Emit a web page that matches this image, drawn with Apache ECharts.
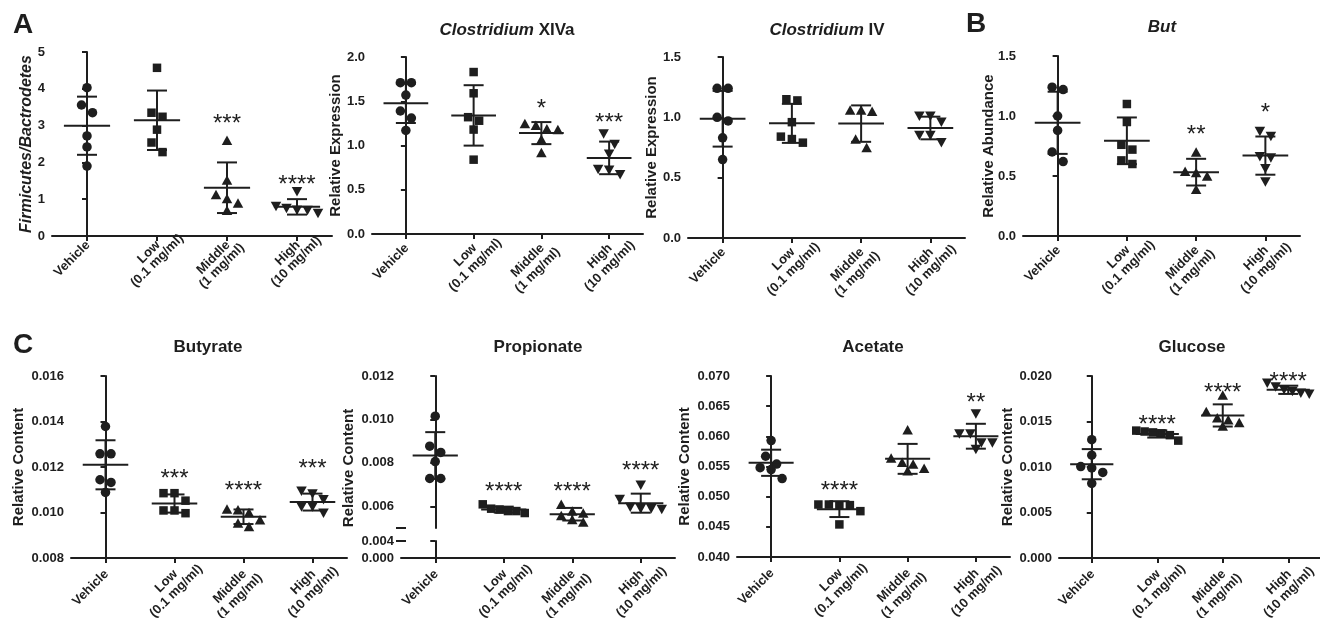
<!DOCTYPE html>
<html>
<head>
<meta charset="utf-8">
<title>Microbiota and SCFA dot plots</title>
<script src="https://cdn.jsdelivr.net/npm/echarts@6/dist/echarts.min.js"></script>
<style>
  html, body { margin: 0; background: #fff; }
  #chart { width: 1320px; height: 618px; }
</style>
</head>
<body>
<div id="chart"></div>
<script>
const groups = ['Vehicle', 'Low\n(0.1 mg/ml)', 'Middle\n(1 mg/ml)', 'High\n(10 mg/ml)'];

// A - Firmicutes/Bactrodetes ratio
const fbValues = [[4.03, 3.56, 3.35, 2.72, 2.42, 1.90], [4.57, 3.35, 3.24, 2.89, 2.54, 2.28], [2.60, 1.52, 1.13, 1.02, 0.90, 0.70], [1.20, 0.80, 0.75, 0.70, 0.69, 0.61]];
const fbStars = ['', '', '***', '****'];
const fbStarAt = [null, null, 3.16, 1.52];

// A - Clostridium XIVa
const xivaValues = [[1.71, 1.71, 1.57, 1.39, 1.31, 1.17], [1.83, 1.59, 1.32, 1.28, 1.18, 0.84], [1.25, 1.23, 1.19, 1.18, 1.07, 0.92], [1.13, 1.01, 0.90, 0.73, 0.72, 0.67]];
const xivaStars = ['', '', '*', '***'];
const xivaStarAt = [null, null, 1.47, 1.31];

// A - Clostridium IV
const ivValues = [[1.24, 1.24, 1.00, 0.97, 0.83, 0.65], [1.15, 1.14, 0.96, 0.84, 0.82, 0.79], [1.06, 1.06, 1.05, 0.82, 0.75], [1.01, 1.01, 0.96, 0.85, 0.85, 0.79]];
const ivStars = ['', '', '', ''];
const ivStarAt = [null, null, null, null];

// B - But gene
const butValues = [[1.24, 1.22, 1.00, 0.88, 0.70, 0.62], [1.10, 0.95, 0.76, 0.72, 0.63, 0.60], [0.70, 0.54, 0.53, 0.50, 0.39], [0.87, 0.83, 0.66, 0.65, 0.56, 0.45]];
const butStars = ['', '', '**', '*'];
const butStarAt = [null, null, 0.88, 1.06];

// C - Butyrate
const butyrateValues = [[0.01378, 0.01258, 0.01258, 0.01144, 0.01132, 0.01088], [0.01085, 0.01085, 0.01052, 0.01009, 0.01009, 0.00997], [0.01015, 0.01012, 0.01000, 0.00968, 0.00954, 0.00939], [0.01093, 0.01081, 0.01056, 0.01024, 0.01024, 0.00997]];
const butyrateStars = ['', '***', '****', '***'];
const butyrateStarAt = [null, 0.01166, 0.01114, 0.01212];

// C - Propionate
const propValues = [[0.01015, 0.00877, 0.00848, 0.00806, 0.00728, 0.00728], [0.00609, 0.00589, 0.00585, 0.00578, 0.00578, 0.00569], [0.00609, 0.00578, 0.00569, 0.00558, 0.00539, 0.00528], [0.00697, 0.00631, 0.00595, 0.00589, 0.00589, 0.00585]];
const propStars = ['', '****', '****', '****'];
const propStarAt = [null, 0.00689, 0.00689, 0.00782];
const propUpperTicks = [0.006, 0.008, 0.010, 0.012];

// C - Acetate
const acetateValues = [[0.0593, 0.0567, 0.0554, 0.0548, 0.0545, 0.0530], [0.0487, 0.0487, 0.0486, 0.0486, 0.0476, 0.0454], [0.0611, 0.0564, 0.0557, 0.0554, 0.0547, 0.0543], [0.0637, 0.0604, 0.0604, 0.0589, 0.0589, 0.0578]];
const acetateStars = ['', '****', '', '**'];
const acetateStarAt = [null, 0.0517, null, 0.0663];

// C - Glucose
const glucoseValues = [[0.0130, 0.0113, 0.01005, 0.0099, 0.0094, 0.0082], [0.0140, 0.0139, 0.0138, 0.0137, 0.0135, 0.0129], [0.0179, 0.0161, 0.0154, 0.0152, 0.0149, 0.0145], [0.0192, 0.0188, 0.0185, 0.0183, 0.0181, 0.0180]];
const glucoseStars = ['', '****', '****', '****'];
const glucoseStarAt = [null, 0.01517, 0.01865, 0.01985];

const FONT = '"Liberation Sans", Arial, Helvetica, sans-serif';
const INK = '#1e1e1e';
const SYMBOLS = ['circle', 'rect', 'triangle', 'path://M0,0L10,0L5,9Z'];
const SYMBOL_SIZES = [9.5, 8.5, [10.5, 9.5], [10.5, 9.5]];
const XLABEL_SIZE = 13;

let panels = [
  { values: fbValues, stars: fbStars, starAt: fbStarAt, left: 52, top: 52, width: 280, height: 184,
    min: 0, max: 5, interval: 1, dec: 0, name: 'Firmicutes/Bactrodetes', italic: true, nameGap: 17, nameSize: 16,
    labelGap: 7, labelLead: 12 },
  { values: xivaValues, stars: xivaStars, starAt: xivaStarAt, left: 372, top: 57, width: 271, height: 177,
    min: 0, max: 2, interval: 0.5, dec: 1, name: 'Relative Expression', nameGap: 29, labelGap: 12, labelLead: 14,
    title: '{i|Clostridium} XIVa', tx: 507, ty: 30 },
  { values: ivValues, stars: ivStars, starAt: ivStarAt, left: 688, top: 57, width: 277, height: 181,
    min: 0, max: 1.5, interval: 0.5, dec: 1, name: 'Relative Expression', nameGap: 29, labelGap: 12, labelLead: 14,
    title: '{i|Clostridium} IV', tx: 827, ty: 30 },
  { values: butValues, stars: butStars, starAt: butStarAt, left: 1023, top: 56, width: 277, height: 180,
    min: 0, max: 1.5, interval: 0.5, dec: 1, name: 'Relative Abundance', nameGap: 27, labelGap: 12, labelLead: 14,
    title: '{i|But}', tx: 1162, ty: 27 },
  { values: butyrateValues, stars: butyrateStars, starAt: butyrateStarAt, left: 71, top: 376, width: 276, height: 182,
    min: 0.008, max: 0.016, interval: 0.002, dec: 3, name: 'Relative Content', nameGap: 45, labelGap: 14, labelLead: 14,
    title: 'Butyrate', tx: 208, ty: 347 },
  { values: propValues, stars: propStars, starAt: propStarAt, left: 401, top: 376, width: 274, height: 152,
    min: 0.005, max: 0.012, ticks: propUpperTicks, dec: 3, broken: true, labelGap: 14, labelLead: 14,
    title: 'Propionate', tx: 538, ty: 347 },
  { values: acetateValues, stars: acetateStars, starAt: acetateStarAt, left: 737, top: 376, width: 273, height: 181,
    min: 0.04, max: 0.07, interval: 0.005, dec: 3, name: 'Relative Content', nameGap: 45, labelGap: 14, labelLead: 14,
    title: 'Acetate', tx: 873, ty: 347 },
  { values: glucoseValues, stars: glucoseStars, starAt: glucoseStarAt, left: 1059, top: 376, width: 262, height: 182,
    min: 0, max: 0.02, interval: 0.005, dec: 3, name: 'Relative Content', nameGap: 44, labelGap: 14, labelLead: 14,
    title: 'Glucose', tx: 1192, ty: 347 }
];

function mean(a) { return a.reduce((s, v) => s + v, 0) / a.length; }
function sd(a) {
  const m = mean(a);
  return Math.sqrt(a.reduce((s, v) => s + (v - m) * (v - m), 0) / (a.length - 1));
}

const measureCtx = document.createElement('canvas').getContext('2d');
function textWidth(t) {
  measureCtx.font = 'bold ' + XLABEL_SIZE + 'px ' + FONT;
  return measureCtx.measureText(t).width;
}

// spread points of similar height side by side, like a scatter dot plot
function spread(values, pxPerUnit, pxPerCat) {
  const order = values.map((v, k) => k).sort((a, b) => values[b] - values[a]);
  const off = values.map(() => 0);
  let row = [];
  const place = () => {
    const step = row.length > 1 ? Math.min(11, 42 / (row.length - 1)) : 0;
    row.forEach((k, j) => { off[k] = (j - (row.length - 1) / 2) * step / pxPerCat; });
    row = [];
  };
  order.forEach(k => {
    if (row.length && (values[row[0]] - values[k]) * pxPerUnit > 11) place();
    row.push(k);
  });
  place();
  return off;
}

const axisLine = { lineStyle: { color: INK, width: 2 } };
const tickStyle = { lineStyle: { color: INK, width: 2 } };
const labelStyle = { color: INK, fontFamily: FONT, fontWeight: 'bold', fontSize: 13 };

let grid = [], xAxis = [], yAxis = [], series = [], graphic = [];

function xAxisFor(gi, visible) {
  return {
    gridIndex: gi, type: 'value', min: -0.5, max: 3.5, show: visible,
    axisLine: axisLine,
    axisTick: { show: true, length: 5, inside: false, customValues: [0, 1, 2, 3], lineStyle: tickStyle.lineStyle },
    axisLabel: { show: false },
    splitLine: { show: false }
  };
}

// rotated group labels: first line ends at the tick, second line centred under it
function groupLabels(gi, yBase, gap, lead) {
  return {
    type: 'custom', xAxisIndex: gi, yAxisIndex: gi, z: 6, silent: true, clip: false,
    data: groups.map((g, i) => [i, yBase]),
    renderItem: (params, api) => {
      const c = api.coord([api.value(0), api.value(1)]);
      const lines = groups[params.dataIndex].split('\n');
      const st = { fontSize: XLABEL_SIZE, fontWeight: 'bold', fontFamily: FONT, fill: INK, verticalAlign: 'middle' };
      const children = [{ type: 'text', x: 0, y: 0, style: Object.assign({ text: lines[0], align: 'right' }, st) }];
      if (lines[1]) {
        children.push({ type: 'text', x: -textWidth(lines[0]) / 2, y: lead,
          style: Object.assign({ text: lines[1], align: 'center' }, st) });
      }
      return { type: 'group', x: c[0] + 1, y: c[1] + gap, rotation: Math.PI / 4, children };
    }
  };
}

panels.forEach(p => {
  const gi = grid.length;
  grid.push({ left: p.left, top: p.top, width: p.width, height: p.height, containLabel: false, outerBoundsMode: 'none' });
  xAxis.push(xAxisFor(gi, !p.broken));
  const y = {
    gridIndex: gi, type: 'value', min: p.min, max: p.max,
    axisLine: Object.assign({ show: true }, axisLine),
    axisTick: { show: true, length: 5, lineStyle: tickStyle.lineStyle },
    axisLabel: Object.assign({}, labelStyle, { margin: 7, formatter: v => v.toFixed(p.dec) }),
    splitLine: { show: false }
  };
  if (p.ticks) {
    y.axisTick.customValues = p.ticks;
    y.axisLabel.customValues = p.ticks;
  } else {
    y.interval = p.interval;
  }
  if (p.name) {
    Object.assign(y, {
      name: p.name, nameLocation: 'middle', nameGap: p.nameGap, nameRotate: 90, nameMoveOverlap: false,
      nameTextStyle: { color: INK, fontFamily: FONT, fontWeight: 'bold', fontSize: p.nameSize || 15,
        fontStyle: p.italic ? 'italic' : 'normal' }
    });
  }
  yAxis.push(y);

  const pxPerUnit = p.height / (p.max - p.min);
  const pxPerCat = p.width / 4;
  p.values.forEach((vals, g) => {
    const off = spread(vals, pxPerUnit, pxPerCat);
    series.push({
      type: 'scatter', xAxisIndex: gi, yAxisIndex: gi, z: 2, silent: true,
      symbol: SYMBOLS[g], symbolSize: SYMBOL_SIZES[g],
      itemStyle: { color: INK, opacity: 1 },
      data: vals.map((v, k) => [g + off[k], v])
    });
  });

  // mean +/- SD bars
  const halfMean = Math.min(25, pxPerCat * 0.33);
  series.push({
    type: 'custom', xAxisIndex: gi, yAxisIndex: gi, z: 4, silent: true,
    data: p.values.map((vals, g) => [g, mean(vals), sd(vals)]),
    renderItem: (params, api) => {
      const x = api.value(0), m = api.value(1), s = api.value(2);
      const c = api.coord([x, m]), hi = api.coord([x, m + s]), lo = api.coord([x, m - s]);
      const st = { stroke: INK, lineWidth: 2 };
      return {
        type: 'group', children: [
          { type: 'line', shape: { x1: c[0] - halfMean, y1: c[1], x2: c[0] + halfMean, y2: c[1] }, style: st },
          { type: 'line', shape: { x1: c[0], y1: hi[1], x2: c[0], y2: lo[1] }, style: st },
          { type: 'line', shape: { x1: c[0] - 10, y1: hi[1], x2: c[0] + 10, y2: hi[1] }, style: st },
          { type: 'line', shape: { x1: c[0] - 10, y1: lo[1], x2: c[0] + 10, y2: lo[1] }, style: st }
        ]
      };
    }
  });

  // significance stars
  const starItems = p.stars.map((s, i) => ({ s, i })).filter(o => o.s);
  if (starItems.length) {
    series.push({
      type: 'custom', xAxisIndex: gi, yAxisIndex: gi, z: 5, silent: true, clip: false,
      data: starItems.map(o => [o.i, p.starAt[o.i]]),
      renderItem: (params, api) => {
        const c = api.coord([api.value(0), api.value(1)]);
        return {
          type: 'text', x: c[0], y: c[1] + 5,
          style: { text: starItems[params.dataIndex].s, align: 'center', verticalAlign: 'middle',
            fontSize: 24, fontFamily: FONT, fill: INK }
        };
      }
    });
  }

  if (p.title) {
    graphic.push({
      type: 'text', x: p.tx, y: p.ty,
      style: { text: p.title, align: 'center', verticalAlign: 'middle', fontSize: 17, fontWeight: 'bold',
        fontFamily: FONT, fill: INK, rich: { i: { fontStyle: 'italic', fontWeight: 'bold', fontSize: 17, fontFamily: FONT, fill: INK } } }
    });
  }

  if (!p.broken) {
    series.push(groupLabels(gi, p.min, p.labelGap, p.labelLead));
  } else {
    // propionate: lower segment of the broken y axis carries the x axis
    const li = grid.length;
    const lowTop = p.top + p.height + 13;
    grid.push({ left: p.left, top: lowTop, width: p.width, height: 17, containLabel: false, outerBoundsMode: 'none' });
    xAxis.push(xAxisFor(li, true));
    yAxis.push({
      gridIndex: li, type: 'value', min: 0, max: 0.004, interval: 0.004,
      axisLine: axisLine,
      axisTick: { show: true, length: 5, lineStyle: tickStyle.lineStyle },
      axisLabel: Object.assign({}, labelStyle, { margin: 7, formatter: v => v.toFixed(3) }),
      splitLine: { show: false }
    });
    series.push(groupLabels(li, 0, p.labelGap, p.labelLead));
    [p.top + p.height, lowTop].forEach(yy => {
      graphic.push({ type: 'line', shape: { x1: p.left - 5, y1: yy, x2: p.left + 5, y2: yy },
        style: { stroke: INK, lineWidth: 2 } });
    });
    graphic.push({
      type: 'text', x: p.left - 52, y: 468, rotation: Math.PI / 2,
      style: { text: 'Relative Content', align: 'center', verticalAlign: 'middle', fontSize: 15,
        fontWeight: 'bold', fontFamily: FONT, fill: INK }
    });
  }
});

// panel letters
[['A', 23, 25], ['B', 976, 24], ['C', 23, 345]].forEach(([t, x, y]) => {
  graphic.push({ type: 'text', x: x, y: y,
    style: { text: t, align: 'center', verticalAlign: 'middle', fontSize: 28, fontWeight: 'bold', fontFamily: FONT, fill: INK } });
});

const chart = echarts.init(document.getElementById('chart'), null, { renderer: 'canvas' });
chart.setOption({
  animation: false,
  backgroundColor: '#fff',
  textStyle: { fontFamily: FONT },
  grid: grid,
  xAxis: xAxis,
  yAxis: yAxis,
  series: series,
  graphic: graphic
});
</script>
</body>
</html>
